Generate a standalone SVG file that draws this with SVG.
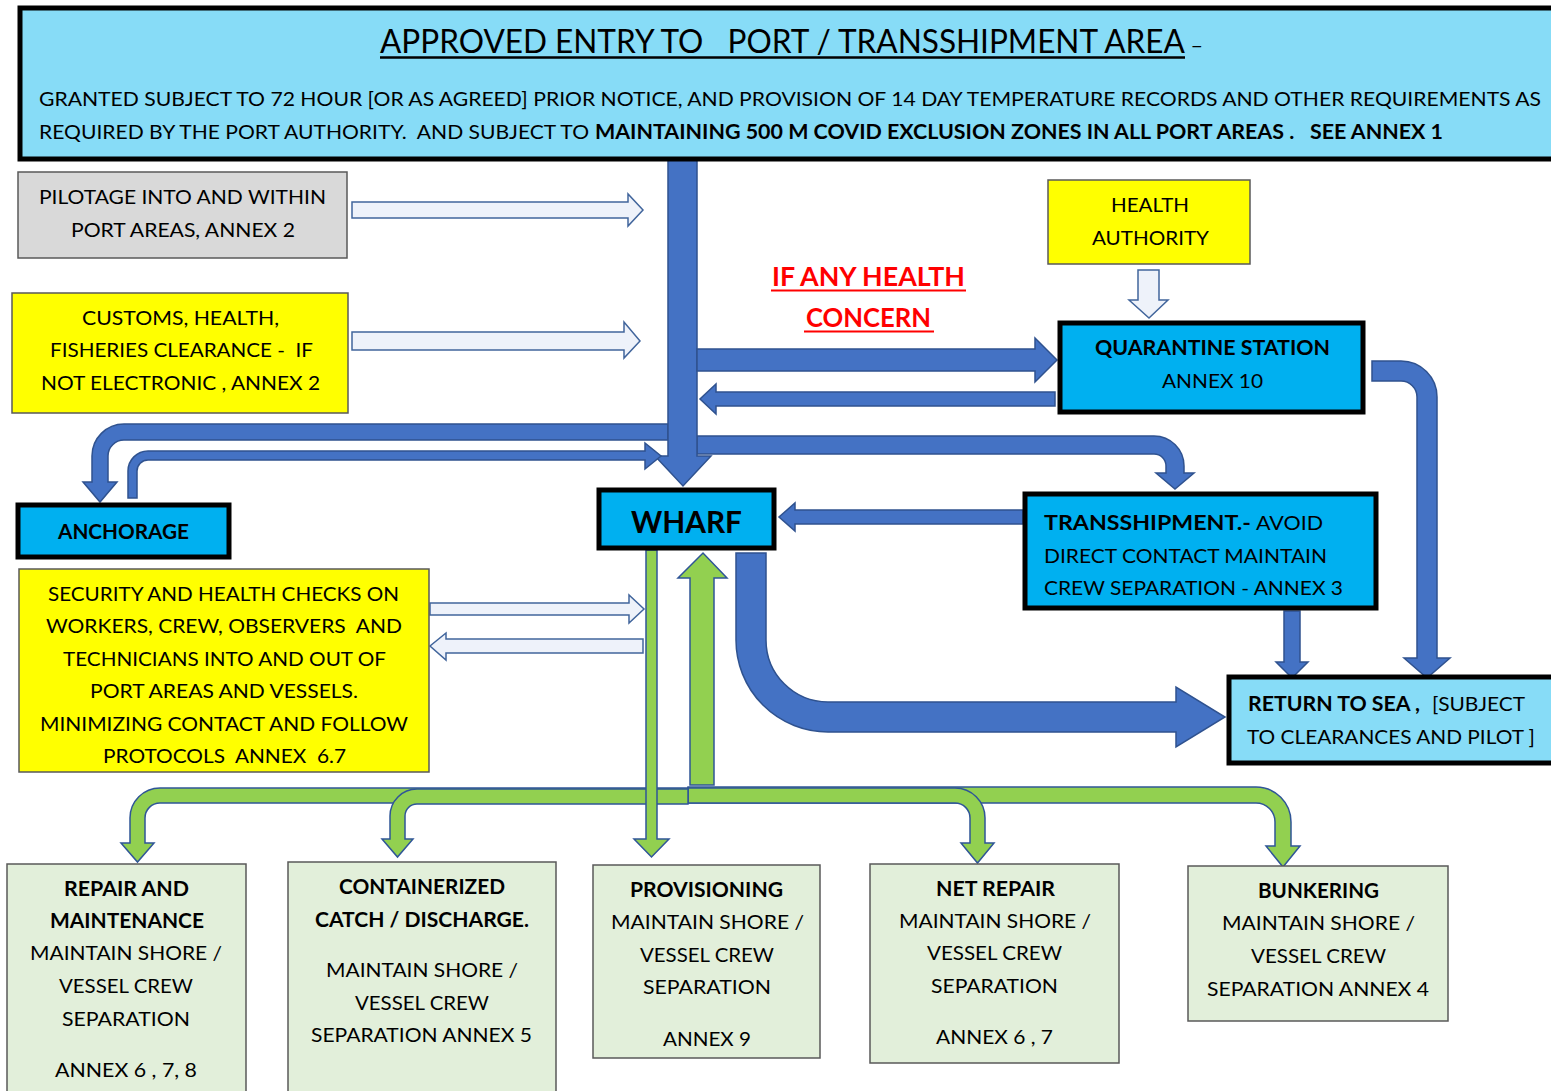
<svg xmlns="http://www.w3.org/2000/svg" width="1551" height="1091" viewBox="0 0 1551 1091">
<style>
text{font-family:Lato,"Liberation Sans",sans-serif;font-size:20px;fill:#000;white-space:pre}
.c{text-anchor:middle}
.b{font-weight:bold}
.blue{fill:#4472C4;stroke:#2F528F;stroke-width:1.5}
.green{fill:#92D050;stroke:#2F5597;stroke-width:1.5}
.hollow{fill:#EEF2FA;stroke:#41659C;stroke-width:1.5}
.thick{stroke:#000;stroke-width:5}
.thin{stroke:#595959;stroke-width:1.5}
.bot{fill:#E2EFDA;stroke:#595959;stroke-width:1.5}
</style>
<rect width="1551" height="1091" fill="#fff"/>

<g id="connectors">
  <path class="blue" d="M668,424 H124 A32,32 0 0 0 92,456 V482 H83 L100,502 L117,482 H108 V456 A16,16 0 0 1 124,440 H668 Z"/>
  <path class="blue" d="M697,436 H1154 A30,30 0 0 1 1184,466 V473 H1194 L1175,489 L1156,473 H1166 V466 A12,12 0 0 0 1154,454 H697 Z"/>
  <path class="blue" d="M668,160 V456 H655 L683,486 L711,456 H697 V160 Z"/>
  <path class="blue" d="M128,498 V471 A20,20 0 0 1 148,451 H645 V443 L661,456 L645,469 V460 H148 A11,11 0 0 0 137,471 V498 Z"/>
  <path class="blue" d="M697,349 H1035 V338 L1057,360 L1035,382 V371 H697 Z"/>
  <path class="blue" d="M1055,392 H716 V384 L700,399 L716,414 V406 H1055 Z"/>
  <path class="blue" d="M1372,361 H1401 A36,36 0 0 1 1437,397 V658 H1450 L1427,678 L1404,658 H1417 V397 A16,16 0 0 0 1401,381 H1372 Z"/>
  <path class="blue" d="M1284,611 V662 H1276 L1292,678 L1308,662 H1300 V611 Z"/>
  <path class="blue" d="M1023,510 H795 V503 L779,517 L795,531 V524 H1023 Z"/>
  <path class="blue" d="M736,553 V640 A92,92 0 0 0 828,732 H1176 V747 L1225,717 L1176,687 V702 H828 A62,62 0 0 1 766,640 V553 Z"/>
  <path class="hollow" d="M352,202 H628 V194 L643,210 L628,226 V218 H352 Z"/>
  <path class="hollow" d="M352,332 H624 V322 L640,341 L624,358 V350 H352 Z"/>
  <path class="hollow" d="M430,603 H629 V595 L644,609 L629,623 V615 H430 Z"/>
  <path class="hollow" d="M643,639 H446 V633 L430,646 L446,660 V653 H643 Z"/>
  <path class="hollow" d="M1138,270 H1159 V300 H1168 L1149,318 L1129,300 H1138 Z"/>
  <path class="green" d="M688,787 H1256 A35,35 0 0 1 1291,822 V846 H1300 L1283,867 L1266,846 H1275 V822 A19,19 0 0 0 1256,803 H688 Z"/>
  <path class="green" d="M688,788 H955 A30,30 0 0 1 985,818 V843 H994 L977.5,863 L961,843 H970 V818 A15,15 0 0 0 955,803 H688 Z"/>
  <path class="green" d="M688,788 H160 A30,30 0 0 0 130,818 V843 H121 L137.5,862 L154,843 H145 V818 A15,15 0 0 1 160,803 H688 Z"/>
  <path class="green" d="M688,789 H417 A27,27 0 0 0 390,816 V839 H382 L397.5,857 L413,839 H405 V816 A12,12 0 0 1 417,804 H688 Z"/>
  <path class="green" d="M690,785 V578 H678 L703,553 L727,578 H714 V785 Z"/>
  <path class="green" d="M646,550 V839 H634 L651.5,857 L669,839 H657 V550 Z"/>
</g>

<g id="header">
  <rect x="20" y="8" width="1545" height="151" fill="#87DCF7" class="thick"/>
  <text x="380" y="53" style="font-size:32px" textLength="823" lengthAdjust="spacingAndGlyphs">APPROVED ENTRY TO   PORT / TRANSSHIPMENT AREA<tspan style="font-size:22px"> –</tspan></text>
  <line x1="380" y1="57.5" x2="1185" y2="57.5" stroke="#000" stroke-width="2.5"/>
  <text x="39" y="106" textLength="1502" lengthAdjust="spacingAndGlyphs">GRANTED SUBJECT TO 72 HOUR [OR AS AGREED] PRIOR NOTICE, AND PROVISION OF 14 DAY TEMPERATURE RECORDS AND OTHER REQUIREMENTS AS</text>
  <text x="39" y="139" textLength="550" lengthAdjust="spacingAndGlyphs">REQUIRED BY THE PORT AUTHORITY.  AND SUBJECT TO</text>
  <text x="595" y="139" class="b" textLength="848" lengthAdjust="spacingAndGlyphs">MAINTAINING 500 M COVID EXCLUSION ZONES IN ALL PORT AREAS .   SEE ANNEX 1</text>
</g>

<g id="pilotage">
  <rect x="18" y="172" width="329" height="86" fill="#D9D9D9" class="thin"/>
  <text class="c" x="182.5" y="204" textLength="287" lengthAdjust="spacingAndGlyphs">PILOTAGE INTO AND WITHIN</text>
  <text class="c" x="183" y="237" textLength="224" lengthAdjust="spacingAndGlyphs">PORT AREAS, ANNEX 2</text>
</g>

<g id="customs">
  <rect x="12" y="293" width="336" height="120" fill="#FFFF00" class="thin"/>
  <text class="c" x="180.5" y="325" textLength="197" lengthAdjust="spacingAndGlyphs">CUSTOMS, HEALTH,</text>
  <text class="c" x="181.5" y="357" textLength="263" lengthAdjust="spacingAndGlyphs">FISHERIES CLEARANCE -  IF</text>
  <text class="c" x="180.5" y="390" textLength="279" lengthAdjust="spacingAndGlyphs">NOT ELECTRONIC , ANNEX 2</text>
</g>

<g id="health-authority">
  <rect x="1048" y="180" width="202" height="84" fill="#FFFF00" class="thin"/>
  <text class="c" x="1150" y="212" textLength="78" lengthAdjust="spacingAndGlyphs">HEALTH</text>
  <text class="c" x="1150.5" y="245" textLength="117" lengthAdjust="spacingAndGlyphs">AUTHORITY</text>
</g>

<g id="health-concern">
  <text class="c b" x="868.5" y="286" style="font-size:27px;fill:#FF0000" textLength="193" lengthAdjust="spacingAndGlyphs">IF ANY HEALTH</text>
  <line x1="771" y1="290.5" x2="966" y2="290.5" stroke="#FF0000" stroke-width="2"/>
  <text class="c b" x="868.5" y="327" style="font-size:27px;fill:#FF0000" textLength="125" lengthAdjust="spacingAndGlyphs">CONCERN</text>
  <line x1="804" y1="331.5" x2="934" y2="331.5" stroke="#FF0000" stroke-width="2"/>
</g>

<g id="quarantine">
  <rect x="1060" y="323" width="303" height="89" fill="#00B0F0" class="thick"/>
  <text class="c b" x="1212.5" y="355" textLength="235" lengthAdjust="spacingAndGlyphs">QUARANTINE STATION</text>
  <text class="c" x="1212.5" y="388" textLength="101" lengthAdjust="spacingAndGlyphs">ANNEX 10</text>
</g>

<g id="anchorage">
  <rect x="18" y="505" width="211" height="52" fill="#00B0F0" class="thick"/>
  <text class="c b" x="123.5" y="539" textLength="131" lengthAdjust="spacingAndGlyphs">ANCHORAGE</text>
</g>

<g id="wharf">
  <rect x="599" y="490" width="175" height="58" fill="#00B0F0" class="thick"/>
  <text class="c b" x="686.5" y="533" style="font-size:30px" textLength="111" lengthAdjust="spacingAndGlyphs">WHARF</text>
</g>

<g id="transshipment">
  <rect x="1025" y="494" width="351" height="114" fill="#00B0F0" class="thick"/>
  <text x="1044" y="530" class="b" textLength="207" lengthAdjust="spacingAndGlyphs">TRANSSHIPMENT.-</text>
  <text x="1256" y="530" textLength="67" lengthAdjust="spacingAndGlyphs">AVOID</text>
  <text x="1044" y="563" textLength="283" lengthAdjust="spacingAndGlyphs">DIRECT CONTACT MAINTAIN</text>
  <text x="1044" y="595" textLength="299" lengthAdjust="spacingAndGlyphs">CREW SEPARATION - ANNEX 3</text>
</g>

<g id="security">
  <rect x="19" y="569" width="410" height="203" fill="#FFFF00" class="thin"/>
  <text class="c" x="223.5" y="601" textLength="351" lengthAdjust="spacingAndGlyphs">SECURITY AND HEALTH CHECKS ON</text>
  <text class="c" x="224" y="633" textLength="356" lengthAdjust="spacingAndGlyphs">WORKERS, CREW, OBSERVERS  AND</text>
  <text class="c" x="224.5" y="666" textLength="323" lengthAdjust="spacingAndGlyphs">TECHNICIANS INTO AND OUT OF</text>
  <text class="c" x="224" y="698" textLength="268" lengthAdjust="spacingAndGlyphs">PORT AREAS AND VESSELS.</text>
  <text class="c" x="224" y="731" textLength="368" lengthAdjust="spacingAndGlyphs">MINIMIZING CONTACT AND FOLLOW</text>
  <text class="c" x="224.5" y="763" textLength="243" lengthAdjust="spacingAndGlyphs">PROTOCOLS  ANNEX  6.7</text>
</g>

<g id="return-to-sea">
  <rect x="1229" y="677" width="330" height="86" fill="#87DCF7" class="thick"/>
  <text x="1248" y="711" class="b" textLength="172" lengthAdjust="spacingAndGlyphs">RETURN TO SEA ,</text>
  <text x="1432" y="711" textLength="93" lengthAdjust="spacingAndGlyphs">[SUBJECT</text>
  <text x="1247" y="744" textLength="288" lengthAdjust="spacingAndGlyphs">TO CLEARANCES AND PILOT ]</text>
</g>

<g id="repair-maintenance">
  <rect x="7" y="864" width="239" height="240" class="bot"/>
  <text class="c b" x="126.5" y="896" textLength="125" lengthAdjust="spacingAndGlyphs">REPAIR AND</text>
  <text class="c b" x="127" y="928" textLength="154" lengthAdjust="spacingAndGlyphs">MAINTENANCE</text>
  <text class="c" x="126" y="960" textLength="192" lengthAdjust="spacingAndGlyphs">MAINTAIN SHORE /</text>
  <text class="c" x="126" y="993" textLength="134" lengthAdjust="spacingAndGlyphs">VESSEL CREW</text>
  <text class="c" x="126" y="1026" textLength="128" lengthAdjust="spacingAndGlyphs">SEPARATION</text>
  <text class="c" x="126" y="1077" textLength="142" lengthAdjust="spacingAndGlyphs">ANNEX 6 , 7, 8</text>
</g>

<g id="containerized">
  <rect x="288" y="862" width="268" height="240" class="bot"/>
  <text class="c b" x="422" y="894" textLength="166" lengthAdjust="spacingAndGlyphs">CONTAINERIZED</text>
  <text class="c b" x="422" y="927" textLength="214" lengthAdjust="spacingAndGlyphs">CATCH / DISCHARGE.</text>
  <text class="c" x="422" y="977" textLength="192" lengthAdjust="spacingAndGlyphs">MAINTAIN SHORE /</text>
  <text class="c" x="422" y="1010" textLength="134" lengthAdjust="spacingAndGlyphs">VESSEL CREW</text>
  <text class="c" x="421.5" y="1042" textLength="221" lengthAdjust="spacingAndGlyphs">SEPARATION ANNEX 5</text>
</g>

<g id="provisioning">
  <rect x="593" y="865" width="227" height="193" class="bot"/>
  <text class="c b" x="706.5" y="897" textLength="153" lengthAdjust="spacingAndGlyphs">PROVISIONING</text>
  <text class="c" x="707.5" y="929" textLength="193" lengthAdjust="spacingAndGlyphs">MAINTAIN SHORE /</text>
  <text class="c" x="707" y="962" textLength="134" lengthAdjust="spacingAndGlyphs">VESSEL CREW</text>
  <text class="c" x="707" y="994" textLength="128" lengthAdjust="spacingAndGlyphs">SEPARATION</text>
  <text class="c" x="707" y="1046" textLength="88" lengthAdjust="spacingAndGlyphs">ANNEX 9</text>
</g>

<g id="net-repair">
  <rect x="870" y="864" width="249" height="199" class="bot"/>
  <text class="c b" x="995.5" y="896" textLength="119" lengthAdjust="spacingAndGlyphs">NET REPAIR</text>
  <text class="c" x="995" y="928" textLength="192" lengthAdjust="spacingAndGlyphs">MAINTAIN SHORE /</text>
  <text class="c" x="994.5" y="960" textLength="135" lengthAdjust="spacingAndGlyphs">VESSEL CREW</text>
  <text class="c" x="994.5" y="993" textLength="127" lengthAdjust="spacingAndGlyphs">SEPARATION</text>
  <text class="c" x="994.5" y="1044" textLength="117" lengthAdjust="spacingAndGlyphs">ANNEX 6 , 7</text>
</g>

<g id="bunkering">
  <rect x="1188" y="866" width="260" height="155" class="bot"/>
  <text class="c b" x="1318.5" y="898" textLength="121" lengthAdjust="spacingAndGlyphs">BUNKERING</text>
  <text class="c" x="1318.5" y="930" textLength="193" lengthAdjust="spacingAndGlyphs">MAINTAIN SHORE /</text>
  <text class="c" x="1318.5" y="963" textLength="135" lengthAdjust="spacingAndGlyphs">VESSEL CREW</text>
  <text class="c" x="1318" y="996" textLength="222" lengthAdjust="spacingAndGlyphs">SEPARATION ANNEX 4</text>
</g>
</svg>
